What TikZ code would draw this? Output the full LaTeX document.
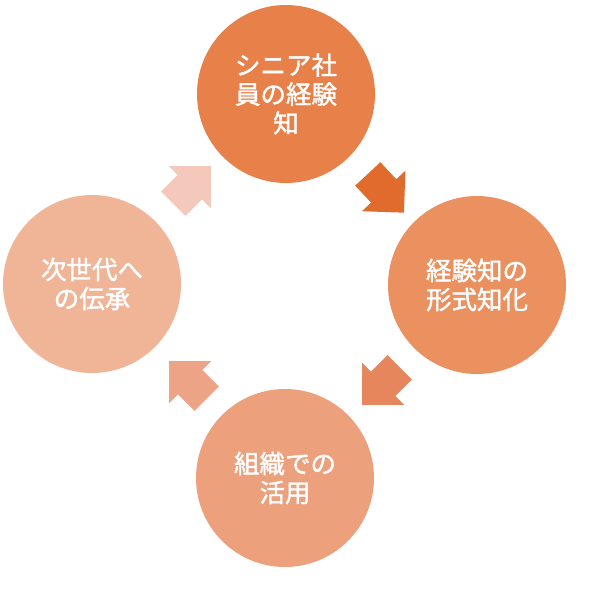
\documentclass[tikz,border=0pt]{standalone}
\usepackage{fontspec}
\setmainfont{Noto Sans CJK JP}[FakeBold=1.6]
\usetikzlibrary{shapes.arrows}
\definecolor{cA}{HTML}{E8804A}
\definecolor{cB}{HTML}{EA915F}
\definecolor{cC}{HTML}{ECA07B}
\definecolor{cD}{HTML}{F0B497}
\definecolor{aA}{HTML}{E06B2C}
\definecolor{aB}{HTML}{E6865C}
\definecolor{aC}{HTML}{EDA385}
\definecolor{aD}{HTML}{F5C8BC}
\tikzset{
  stage/.style={circle, minimum size=178pt, inner sep=0pt, text=white, align=center,
    font=\fontsize{25.5pt}{29pt}\selectfont},
  flow/.style={single arrow, inner xsep=0pt, inner ysep=17pt, minimum height=53pt,
    single arrow head extend=12.5pt, single arrow tip angle=90},
}
\begin{document}
\begin{tikzpicture}[x=1pt,y=-1pt]
\useasboundingbox (0,0) rectangle (595,590);
\node[stage, fill=cA] (s1) at (286,94) {シニア社\\員の経験\\知};
\node[stage, fill=cB] (s2) at (477,285) {経験知の\\形式知化};
\node[stage, fill=cC] (s3) at (285,478) {組織での\\活用};
\node[stage, fill=cD] (s4) at (92,284) {次世代へ\\の伝承};
\node[flow, fill=aA, rotate=-47] (a1) at (380,187) {};
\node[flow, fill=aB, rotate=-135] (a2) at (387,380) {};
\node[flow, fill=aC, rotate=135] (a3) at (194,386) {};
\node[flow, fill=aD, rotate=45] (a4) at (186,191) {};
\end{tikzpicture}
\end{document}
